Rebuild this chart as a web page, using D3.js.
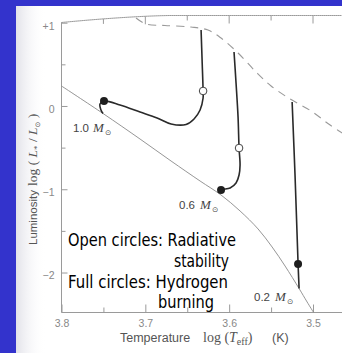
<!DOCTYPE html>
<html>
<head>
<meta charset="utf-8">
<script src="https://cdn.jsdelivr.net/npm/d3@7"></script>
<style>
  html, body { margin: 0; padding: 0; background: #3333cc; }
  svg { display: block; }
</style>
</head>
<body>
<svg id="chart" width="342" height="353"></svg>
<script>
// Pre-main-sequence evolutionary tracks: log T_eff (K) vs log L*/Lsun

// Zero-age main sequence
const zams = [
  [3.8000, 0.240], [3.7505, -0.090], [3.7063, -0.397], [3.6693, -0.661],
  [3.6347, -0.901], [3.6097, -1.069], [3.5870, -1.261], [3.5655, -1.477],
  [3.5488, -1.693], [3.5333, -1.922], [3.5166, -2.192], [3.5070, -2.354],
  [3.4993, -2.480]
];

// Birthline (dashed)
const birthline = [
  [3.7111, 1.056], [3.6992, 0.984], [3.6765, 0.966], [3.6455, 0.948],
  [3.6252, 0.912], [3.6097, 0.816], [3.5894, 0.636], [3.5679, 0.408],
  [3.5500, 0.240], [3.5273, 0.084], [3.5023, -0.060], [3.4796, -0.229],
  [3.4557, -0.385]
];

// 1.0 Msun track
const track10 = [
  [3.6335, 0.912], [3.6323, 0.552], [3.6311, 0.180], [3.6311, 0.096],
  [3.6347, -0.048], [3.6419, -0.156], [3.6514, -0.222], [3.6693, -0.216],
  [3.6860, -0.144], [3.7063, -0.072], [3.7302, 0.012], [3.7493, 0.060],
  [3.7541, 0.024], [3.7529, -0.048], [3.7505, -0.090]
];

// 0.6 Msun track
const track06 = [
  [3.5942, 0.648], [3.5918, 0.276], [3.5894, -0.132], [3.5882, -0.505],
  [3.5870, -0.709], [3.5882, -0.829], [3.5918, -0.925], [3.5989, -0.985],
  [3.6097, -1.009], [3.6121, -1.045]
];

// 0.2 Msun track
const track02 = [
  [3.5249, 0.048], [3.5214, -0.841], [3.5178, -1.898], [3.5166, -2.192]
];

// Onset of radiative stability (open) and hydrogen burning (full)
const openCircles = [[3.6311, 0.180], [3.5882, -0.505]];
const fullCircles = [[3.7493, 0.060], [3.6097, -1.009], [3.5178, -1.898]];

// Axis ticks
const xMajor = [3.8, 3.7, 3.6, 3.5];
const xMinor = [3.75, 3.65, 3.55];
const yMajor = [1, 0, -1, -2];
const yMinor = [0.5, -0.5, -1.5];

// Track labels
const massLabels = ["1.0", "0.6", "0.2"];
const noteLines = ["Open circles: Radiative", "stability", "Full circles: Hydrogen", "burning"];

const svg = d3.select("#chart");
const W = 342, H = 353;

const x = d3.scaleLinear().domain([3.8, 3.5]).range([61.5, 313]);
const y = d3.scaleLinear().domain([-2.48, 1]).range([312.5, 22.7]);

// Backdrop: blue slide with white page
svg.append("rect").attr("width", W).attr("height", H).attr("fill", "#3333cc");
const defs = svg.append("defs");
const grad = defs.append("linearGradient").attr("id", "edge")
  .attr("x1", 0).attr("x2", 1).attr("y1", 0).attr("y2", 0);
grad.append("stop").attr("offset", 0).attr("stop-color", "#d6d6e0").attr("stop-opacity", 0.7);
grad.append("stop").attr("offset", 1).attr("stop-color", "#ffffff").attr("stop-opacity", 0);
svg.append("rect").attr("x", 16).attr("y", 6).attr("width", W - 16).attr("height", H - 6).attr("fill", "#ffffff");
svg.append("rect").attr("x", 16).attr("y", 6).attr("width", 30).attr("height", H - 6).attr("fill", "url(#edge)");

const axisColor = "#9a9a9a";
const x0 = x(3.8), yb = y(-2.48);

// Top edge of the page curls slightly
const frameTop = px => 15.5 + 7 * Math.pow(Math.max(0, (171 - px) / (171 - x0)), 1.5);

// Frame
const topPts = d3.range(x0, W + 1, 2).map(px => [px, frameTop(px)]);
svg.append("path").attr("d", d3.line()(topPts))
  .attr("fill", "none").attr("stroke", axisColor).attr("stroke-width", 1);
svg.append("line").attr("x1", x0).attr("x2", x0).attr("y1", frameTop(x0)).attr("y2", yb)
  .attr("stroke", axisColor).attr("stroke-width", 1);
svg.append("line").attr("x1", x0).attr("x2", W).attr("y1", yb).attr("y2", yb)
  .attr("stroke", axisColor).attr("stroke-width", 1);

// Bottom axis (ticks point inward)
const gx = svg.append("g").attr("transform", `translate(0,${yb})`)
  .call(d3.axisBottom(x).tickValues(xMajor).tickSize(-8).tickPadding(7).tickFormat(d3.format(".1f")));
gx.select(".domain").remove();
gx.selectAll("line").attr("stroke", axisColor);
gx.selectAll("text").attr("fill", "#888").attr("font-family", "Liberation Sans, Arial, sans-serif").attr("font-size", 10.5);
const gxm = svg.append("g").attr("transform", `translate(0,${yb})`)
  .call(d3.axisBottom(x).tickValues(xMinor).tickSize(-5).tickFormat(""));
gxm.select(".domain").remove();
gxm.selectAll("line").attr("stroke", axisColor);

// Top axis ticks follow the page edge
svg.append("g").selectAll("line")
  .data(xMajor.map(v => [v, 8]).concat(xMinor.map(v => [v, 5])))
  .join("line")
  .attr("x1", d => x(d[0])).attr("x2", d => x(d[0]))
  .attr("y1", d => frameTop(x(d[0]))).attr("y2", d => frameTop(x(d[0])) + d[1])
  .attr("stroke", axisColor);

// Left axis
const gy = svg.append("g").attr("transform", `translate(${x0},0)`)
  .call(d3.axisLeft(y).tickValues(yMajor).tickSize(-6).tickPadding(7)
    .tickFormat(d => d > 0 ? "+" + d : d3.format("d")(d)));
gy.select(".domain").remove();
gy.selectAll("line").attr("stroke", axisColor);
gy.selectAll("text").attr("fill", "#888").attr("font-family", "Liberation Sans, Arial, sans-serif")
  .attr("font-size", 10.5).attr("dy", "0.6em");
const gym = svg.append("g").attr("transform", `translate(${x0},0)`)
  .call(d3.axisLeft(y).tickValues(yMinor).tickSize(-4).tickFormat(""));
gym.select(".domain").remove();
gym.selectAll("line").attr("stroke", axisColor);

// Curves
const line = d3.line().x(d => x(d[0])).y(d => y(d[1])).curve(d3.curveCatmullRom.alpha(0.5));

svg.append("path").attr("d", line(zams))
  .attr("fill", "none").attr("stroke", "#8a8a8a").attr("stroke-width", 0.9);
svg.append("path").attr("d", line(birthline))
  .attr("fill", "none").attr("stroke", "#9a9a9a").attr("stroke-width", 1.1)
  .attr("stroke-dasharray", "8,6");

[track10, track06, track02].forEach(t => {
  svg.append("path").attr("d", line(t))
    .attr("fill", "none").attr("stroke", "#2a2a2a").attr("stroke-width", 1.6)
    .attr("stroke-linejoin", "round");
});

svg.append("g").selectAll("circle").data(openCircles).join("circle")
  .attr("cx", d => x(d[0])).attr("cy", d => y(d[1])).attr("r", 3.8)
  .attr("fill", "#ffffff").attr("stroke", "#444").attr("stroke-width", 1);
svg.append("g").selectAll("circle").data(fullCircles).join("circle")
  .attr("cx", d => x(d[0])).attr("cy", d => y(d[1])).attr("r", 4)
  .attr("fill", "#1e1e1e");

// Mass labels: number, italic M, solar symbol subscript
const labelPos = [
  { x: 73, y: 132, mx: 93 },
  { x: 179, y: 209, mx: 200 },
  { x: 254, y: 301, mx: 275 }
];
massLabels.forEach((m, i) => {
  const p = labelPos[i];
  svg.append("text").attr("x", p.x).attr("y", p.y).text(m)
    .attr("font-family", "Liberation Sans, Arial, sans-serif").attr("font-size", 11.5).attr("fill", "#444");
  svg.append("text").attr("x", p.mx).attr("y", p.y).text("M")
    .attr("font-family", "Liberation Serif, Times New Roman, serif").attr("font-style", "italic")
    .attr("font-size", 13).attr("fill", "#444");
  svg.append("text").attr("x", p.mx + 12).attr("y", p.y + 3).text("\u2299")
    .attr("font-family", "DejaVu Sans, sans-serif").attr("font-size", 7.5).attr("fill", "#444");
});

// Axis titles
const xt = svg.append("g").attr("fill", "#555");
xt.append("text").attr("x", 120).attr("y", 342).text("Temperature")
  .attr("font-family", "Liberation Sans, Arial, sans-serif").attr("font-size", 12.5);
const xl = xt.append("text").attr("x", 203).attr("y", 342)
  .attr("font-family", "Liberation Serif, Times New Roman, serif").attr("font-size", 14);
xl.append("tspan").text("log (");
xl.append("tspan").attr("font-style", "italic").text("T");
xl.append("tspan").attr("font-size", 10).attr("dy", 3).text("eff");
xl.append("tspan").attr("dy", -3).text(")");
xt.append("text").attr("x", 272).attr("y", 342).text("(K)")
  .attr("font-family", "Liberation Sans, Arial, sans-serif").attr("font-size", 12.5);

const yt = svg.append("g").attr("fill", "#555").attr("transform", "translate(37,0) rotate(-90)");
yt.append("text").attr("x", -245).attr("y", 0).text("Luminosity")
  .attr("font-family", "Liberation Sans, Arial, sans-serif").attr("font-size", 11.5);
const yl = yt.append("text").attr("x", -186).attr("y", 0)
  .attr("font-family", "Liberation Serif, Times New Roman, serif").attr("font-size", 13.5);
yl.append("tspan").text("log ( ");
yl.append("tspan").attr("font-style", "italic").text("L");
yl.append("tspan").attr("font-size", 9).attr("dy", 3).text("*");
yl.append("tspan").attr("dy", -3).text(" / ");
yl.append("tspan").attr("font-style", "italic").text("L");
yl.append("tspan").attr("font-family", "DejaVu Sans, sans-serif").attr("font-size", 7).attr("dy", 3).text("\u2299");
yl.append("tspan").attr("dy", -3).text(" )");

// Legend notes
const notePos = [
  { x: 68, y: 246, w: 168 },
  { x: 174, y: 267, w: 55 },
  { x: 68, y: 288, w: 160 },
  { x: 158, y: 308, w: 56 }
];
noteLines.forEach((s, i) => {
  const p = notePos[i];
  svg.append("text").attr("x", p.x).attr("y", p.y).text(s)
    .attr("font-family", "DejaVu Sans, Verdana, sans-serif").attr("font-size", 17)
    .attr("fill", "#000")
    .attr("textLength", p.w).attr("lengthAdjust", "spacingAndGlyphs");
});
</script>
</body>
</html>
